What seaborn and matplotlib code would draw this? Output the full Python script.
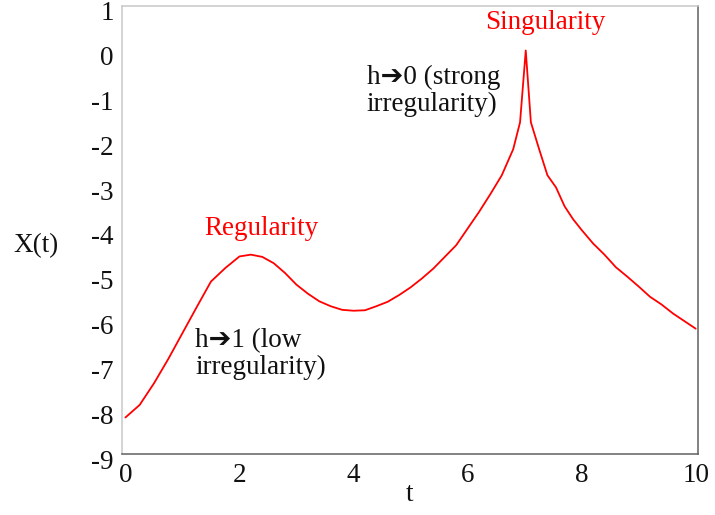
import numpy as np
import pandas as pd
import matplotlib
matplotlib.use("Agg")
import matplotlib.pyplot as plt
import matplotlib.transforms as mtransforms
import seaborn as sns

# values
t = [0.0, 0.25, 0.5, 0.75, 1.0, 1.25, 1.5, 1.75, 2.0, 2.2, 2.4, 2.6, 2.8, 3.0,
     3.2, 3.4, 3.6, 3.8, 4.0, 4.2, 4.4, 4.6, 4.8, 5.0, 5.2, 5.4, 5.6, 5.8,
     6.0, 6.2, 6.4, 6.6, 6.8, 6.92, 7.02, 7.11, 7.25, 7.4, 7.55, 7.7, 7.85,
     8.0, 8.2, 8.4, 8.6, 8.8, 9.0, 9.2, 9.4, 9.6, 9.8, 10.0]
x_t = [-8.18, -7.9, -7.42, -6.88, -6.3, -5.72, -5.15, -4.85, -4.59, -4.55,
       -4.6, -4.74, -4.96, -5.22, -5.42, -5.59, -5.7, -5.78, -5.8, -5.79,
       -5.7, -5.6, -5.45, -5.28, -5.08, -4.86, -4.6, -4.34, -3.97, -3.6,
       -3.2, -2.78, -2.2, -1.6, 0.0, -1.6, -2.18, -2.78, -3.05, -3.47, -3.76,
       -4.0, -4.3, -4.55, -4.83, -5.04, -5.26, -5.49, -5.66, -5.86, -6.03, -6.2]
x_ticks = [0, 2, 4, 6, 8, 10]
y_ticks = list(range(-9, 2))

df = pd.DataFrame({"t": t, "X": x_t})

sns.set_style("white")
plt.rcParams['font.family'] = ['Liberation Serif', 'DejaVu Sans']
plt.rcParams['axes.unicode_minus'] = False
plt.rcParams['xtick.direction'] = 'in'
plt.rcParams['ytick.direction'] = 'in'

fig = plt.figure(figsize=(7.15, 5.15), dpi=100)
ax = fig.add_axes([0.1706, 0.1179, 0.8056, 0.8711])

sns.lineplot(data=df, x="t", y="X", ax=ax, color="#ff0000", linewidth=1.3)

ax.set_xlim(-0.06, 10.04)
ax.set_ylim(-9, 1)
ax.set_xticks(x_ticks)
ax.set_yticks(y_ticks)
ax.tick_params(labelsize=19.5, length=4, width=0.8, color="#555555",
               labelcolor="#111111", pad=6)

# y tick labels sit a little below their ticks in the reference
shift = mtransforms.ScaledTranslation(0, -5 / 100, fig.dpi_scale_trans)
for lab in ax.get_yticklabels():
    lab.set_transform(lab.get_transform() + shift)

# light grey left/top spines, darker bottom/right spines
for side, col in [("left", "#c8c8c8"), ("top", "#c8c8c8"),
                  ("bottom", "#606060"), ("right", "#606060")]:
    ax.spines[side].set_visible(True)
    ax.spines[side].set_color(col)
    ax.spines[side].set_linewidth(1.1)

ax.set_xlabel("t", fontsize=19.5, labelpad=-4, color="#111111")
ax.set_ylabel("X(t)", fontsize=19.5, rotation=0, va="center", color="#111111")
ax.yaxis.set_label_coords(-0.15, 0.465)

ax.text(7.36, 0.62, "Singularity", color="#ff0000", fontsize=19.5,
        ha="center", va="center")
ax.text(2.39, -3.96, "Regularity", color="#ff0000", fontsize=19.5,
        ha="center", va="center")
ax.text(4.23, -0.91, "h\u27940 (strong\nirregularity)", color="#111111",
        fontsize=19.5, ha="left", va="center", linespacing=1.1)
ax.text(1.22, -6.76, "h\u27941 (low\nirregularity)", color="#111111",
        fontsize=19.5, ha="left", va="center", linespacing=1.1)

fig.savefig("out.png", dpi=100)
